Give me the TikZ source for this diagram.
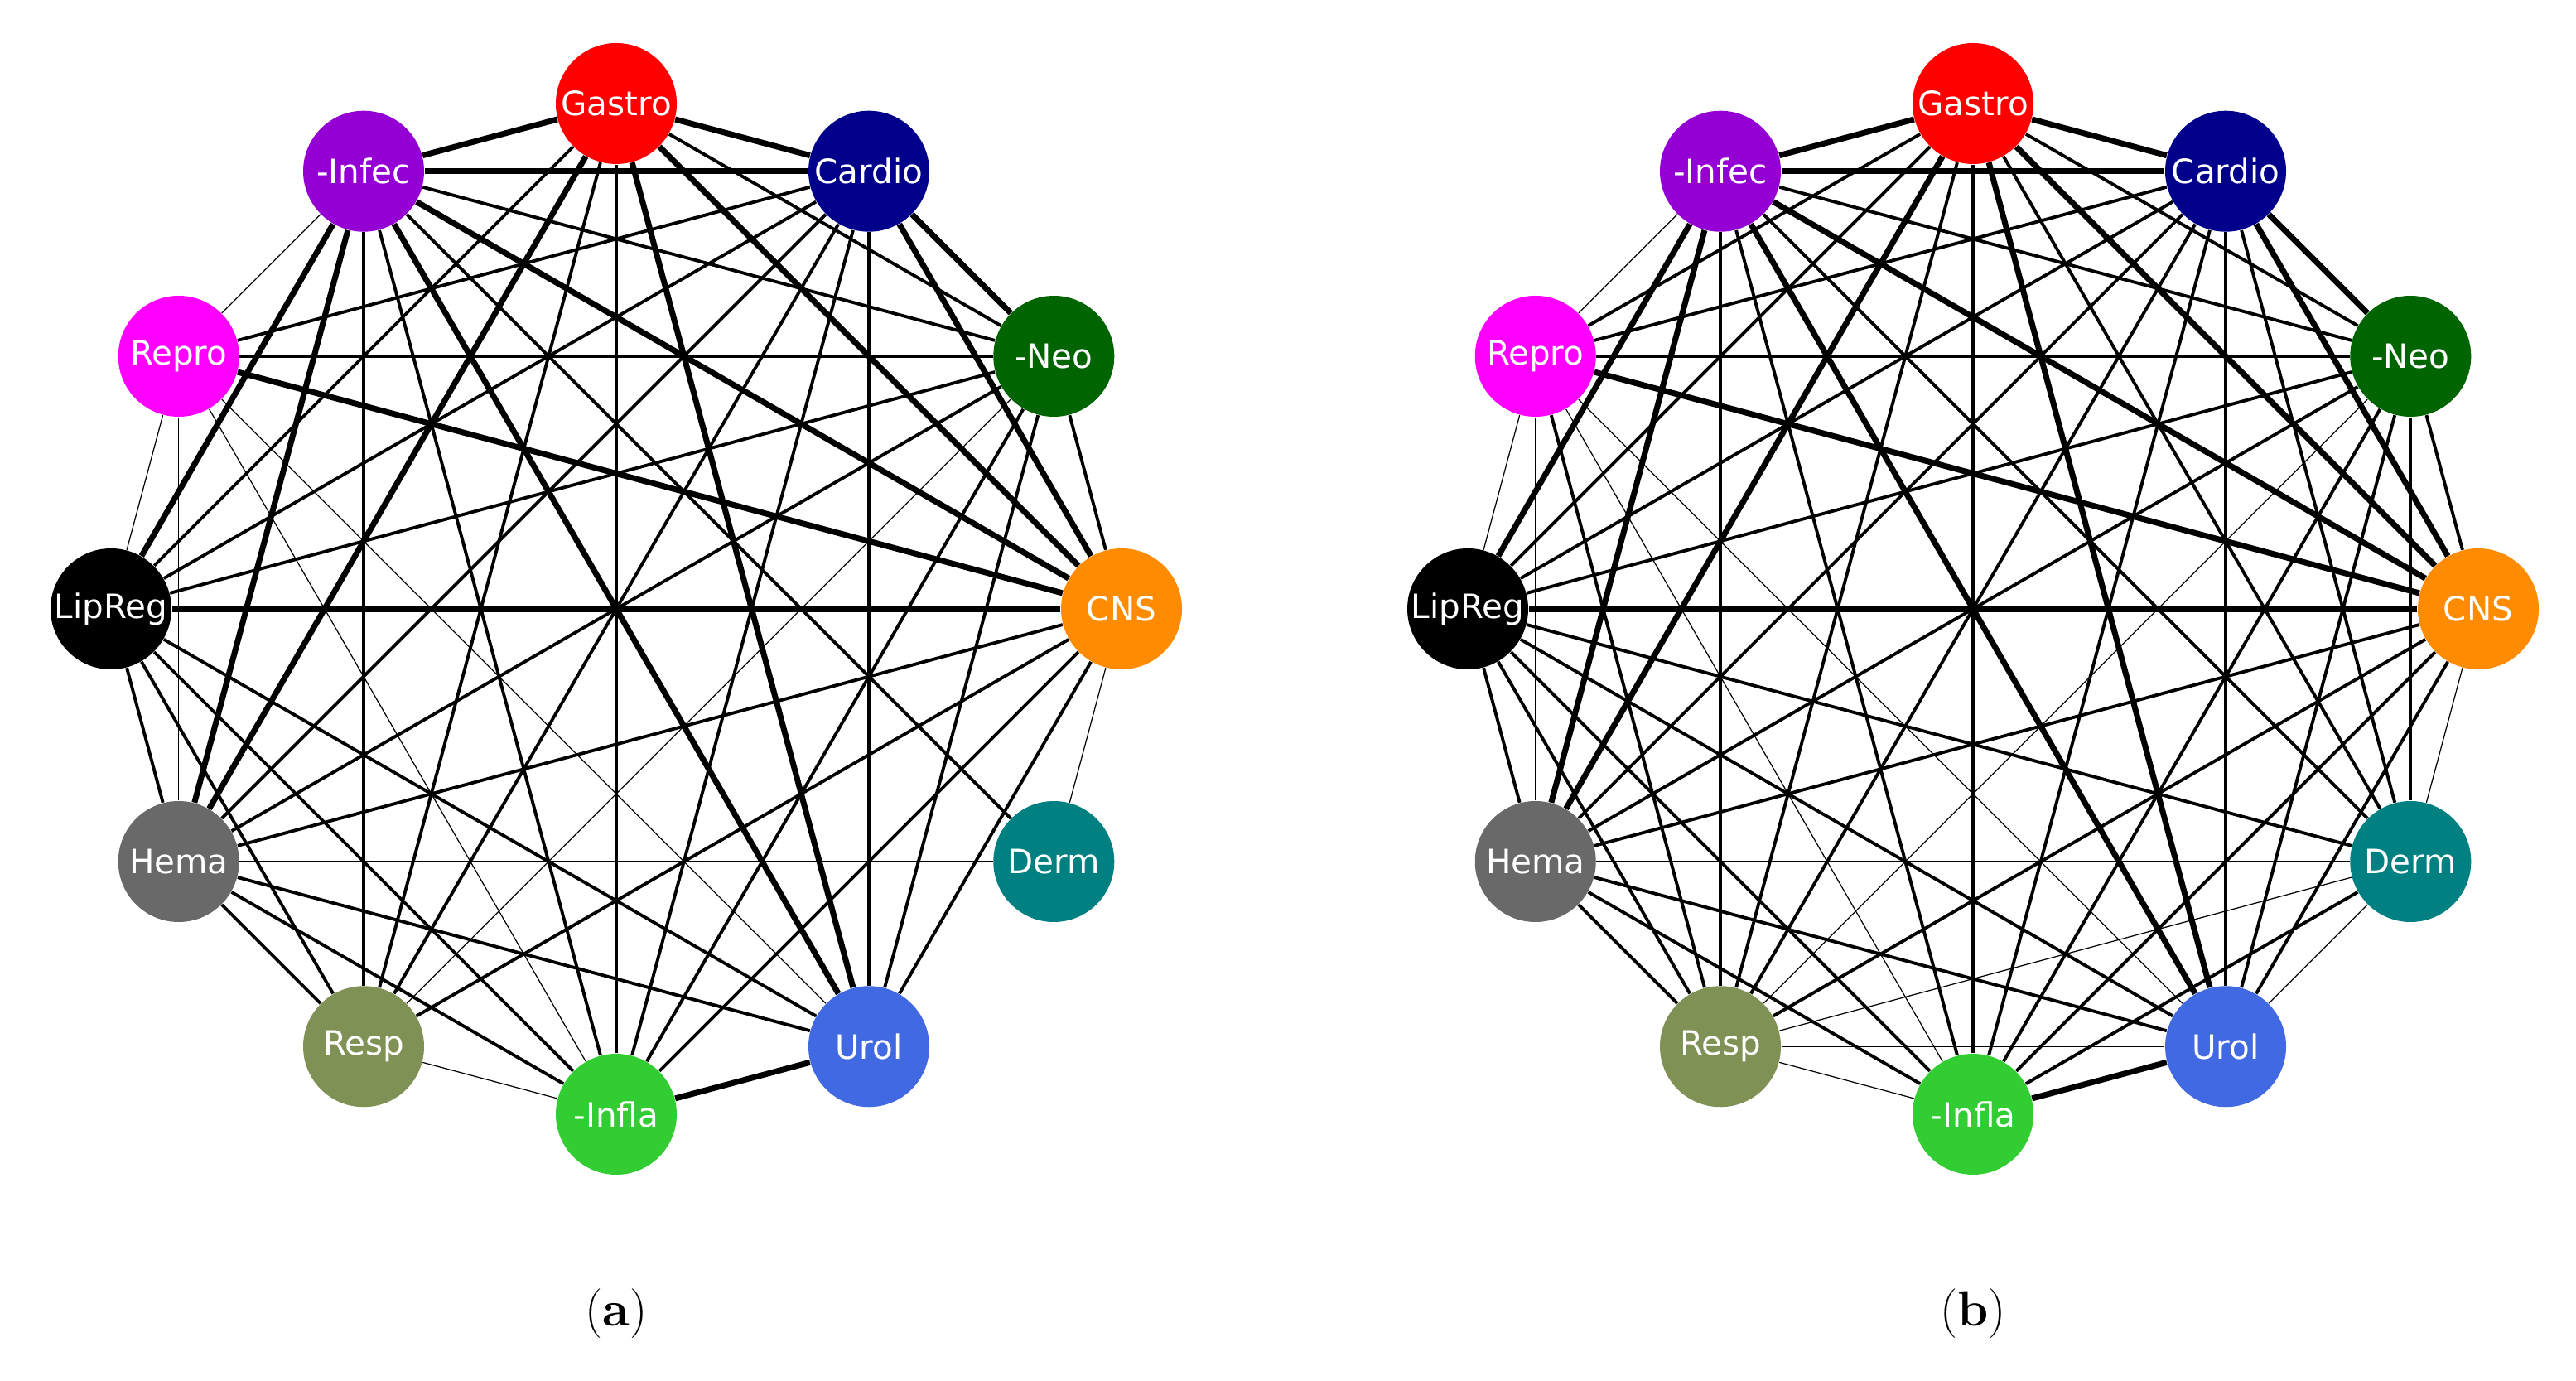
\documentclass[tikz,border=0pt]{standalone}
\usepackage{fontspec}
\setsansfont{DejaVu Sans}
\usetikzlibrary{backgrounds,calc}
\definecolor{cGastro}{RGB}{255,0,0}
\definecolor{cCardio}{RGB}{0,0,139}
\definecolor{cNeo}{RGB}{0,100,0}
\definecolor{cCNS}{RGB}{255,140,0}
\definecolor{cDerm}{RGB}{0,128,128}
\definecolor{cUrol}{RGB}{65,105,225}
\definecolor{cInfla}{RGB}{50,205,50}
\definecolor{cResp}{RGB}{128,145,85}
\definecolor{cHema}{RGB}{105,105,105}
\definecolor{cLipReg}{RGB}{0,0,0}
\definecolor{cRepro}{RGB}{255,0,255}
\definecolor{cInfec}{RGB}{148,0,211}

\begin{document}
\begin{tikzpicture}[
    disease/.style={circle, minimum size=1.46cm, inner sep=0pt, text=white,
                    font=\sffamily\fontsize{11.5}{13}\selectfont},
    thinedge/.style={line width=0.35pt},
    midedge/.style={line width=1.1pt},
    fatedge/.style={line width=2pt},
    caption/.style={font=\fontsize{17}{20}\selectfont},
]
\useasboundingbox (0,0) rectangle (31.1,16.66);

% nodes of both graphs
\foreach \g/\cx in {a/7.44, b/23.82} {
  \foreach \name [count=\i from 0] in {Gastro,Cardio,Neo,CNS,Derm,Urol,Infla,Resp,Hema,LipReg,Repro,Infec} {
    \pgfmathsetmacro{\ang}{90-30*\i}
    \ifnum\i=2 \def\lbl{-Neo}\else\ifnum\i=6 \def\lbl{-Infla}\else\ifnum\i=11 \def\lbl{-Infec}\else\let\lbl\name\fi\fi\fi
    \node[disease, fill=c\name] (\g\i) at ($(\cx,9.31)+(\ang:6.1)$) {\lbl};
  }
}

% graph (a)
\begin{scope}[on background layer]
\foreach \u/\v/\w in {0/11/fat,0/1/fat,0/2/mid,0/3/fat,0/5/fat,0/6/mid,0/7/mid,0/8/fat,0/9/mid,
    1/11/fat,1/10/mid,1/9/mid,1/2/fat,1/3/fat,1/8/mid,1/6/mid,1/5/mid,1/7/mid,
    2/11/mid,2/10/mid,2/9/mid,2/3/mid,2/8/mid,2/6/mid,2/5/mid,2/7/thin,
    3/11/fat,3/10/fat,3/9/fat,3/8/mid,3/7/mid,3/6/mid,3/5/mid,3/4/thin,
    4/8/thin,4/11/mid,
    5/6/fat,5/8/mid,5/9/mid,5/10/thin,5/11/fat,
    6/7/thin,6/8/mid,6/9/mid,6/10/thin,6/11/mid,
    7/8/mid,7/9/mid,7/11/mid,8/9/mid,8/10/thin,8/11/fat,9/10/thin,9/11/fat,10/11/thin}
  \draw[\w edge] (a\u) -- (a\v);
\end{scope}

% graph (b)
\begin{scope}[on background layer]
\foreach \u/\v/\w in {0/11/fat,0/1/fat,0/2/mid,0/3/fat,0/4/mid,0/5/fat,0/6/mid,0/7/mid,0/8/fat,0/9/mid,0/10/mid,
    1/11/fat,1/10/mid,1/9/mid,1/2/fat,1/3/fat,1/4/mid,1/8/mid,1/6/mid,1/5/mid,1/7/mid,
    2/11/mid,2/10/mid,2/9/mid,2/3/mid,2/4/mid,2/8/mid,2/6/mid,2/5/mid,2/7/thin,
    3/11/fat,3/10/fat,3/9/fat,3/8/mid,3/7/mid,3/6/mid,3/5/mid,3/4/thin,
    4/5/thin,4/6/mid,4/7/thin,4/8/thin,4/9/mid,4/11/mid,
    5/6/fat,5/7/thin,5/8/mid,5/9/mid,5/10/thin,5/11/fat,
    6/7/thin,6/8/mid,6/9/mid,6/10/thin,6/11/mid,
    7/8/mid,7/9/mid,7/10/mid,7/11/mid,8/9/mid,8/10/thin,8/11/fat,9/10/thin,9/11/fat,10/11/thin}
  \draw[\w edge] (b\u) -- (b\v);
\end{scope}

\node[caption] (capa) at (7.44,0.8) {(\textbf{a})};
\node[caption] (capb) at (23.82,0.8) {(\textbf{b})};
\end{tikzpicture}
\end{document}
